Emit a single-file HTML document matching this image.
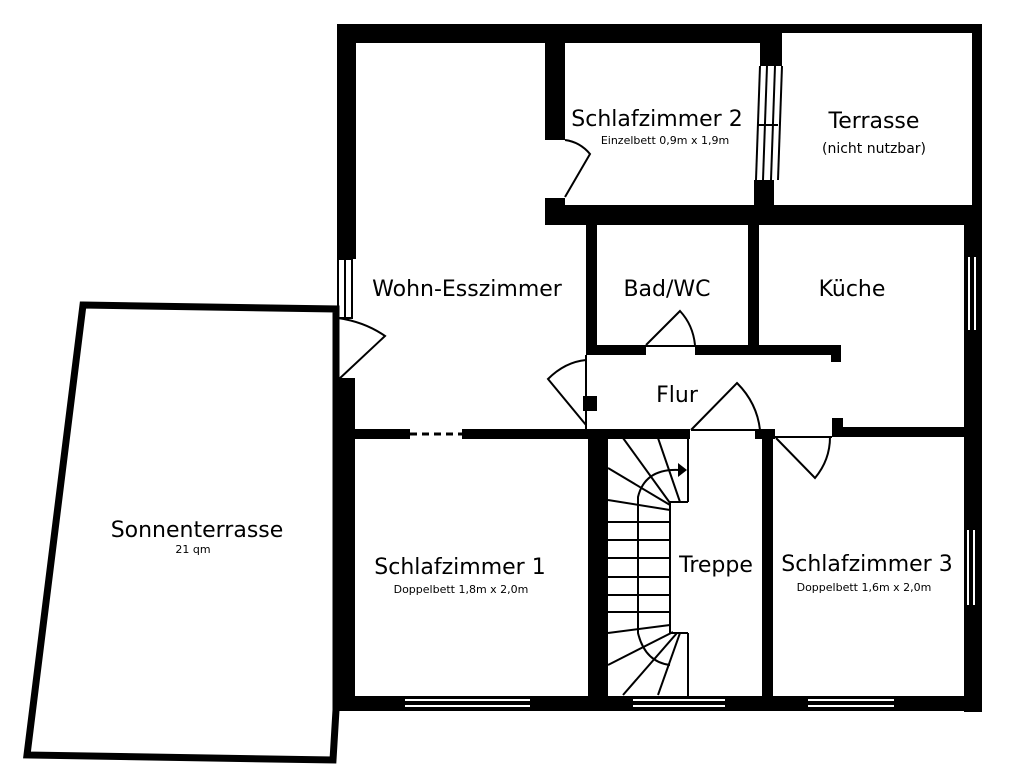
<!DOCTYPE html>
<html><head><meta charset="utf-8"><style>
html,body{margin:0;padding:0;background:#fff;}
svg{display:block;}
text{font-family:"DejaVu Sans","Liberation Sans",sans-serif;fill:#000;}
</style></head><body>
<svg width="1024" height="779" viewBox="0 0 1024 779" xmlns="http://www.w3.org/2000/svg">
<rect width="1024" height="779" fill="#fff"/>
<polygon points="83,305 336,309 336,710 333,760 27,755" fill="none" stroke="#000" stroke-width="7" stroke-linejoin="miter"/>
<g fill="#000">
<rect x="337" y="24" width="425" height="19"/>
<rect x="760" y="24" width="222" height="9"/>
<rect x="337" y="24" width="19" height="235"/>
<rect x="337" y="378" width="18" height="333"/>
<rect x="337" y="696" width="645" height="15"/>
<rect x="972" y="24" width="10" height="185"/>
<rect x="964" y="205" width="18" height="507"/>
<rect x="545" y="40" width="20" height="100"/>
<rect x="545" y="198" width="20" height="25"/>
<rect x="545" y="205" width="437" height="20"/>
<rect x="760" y="33" width="22" height="33"/>
<rect x="754" y="180" width="20" height="27"/>
<rect x="586" y="222" width="11" height="133"/>
<rect x="748" y="222" width="11" height="125"/>
<rect x="586" y="345" width="60" height="10"/>
<rect x="695" y="345" width="145" height="10"/>
<rect x="831" y="345" width="10" height="17"/>
<rect x="832" y="418" width="11" height="19"/>
<rect x="832" y="427" width="134" height="10"/>
<rect x="583" y="396" width="14" height="15"/>
<rect x="355" y="429" width="55" height="10"/>
<rect x="462" y="429" width="228" height="10"/>
<rect x="755" y="429" width="20" height="10"/>
<rect x="588" y="430" width="20" height="280"/>
<rect x="762" y="430" width="11" height="280"/>
</g>
<line x1="410" y1="434" x2="462" y2="434" stroke="#000" stroke-width="3" stroke-dasharray="7,5"/>
<g fill="#fff">
<rect x="405" y="699" width="125" height="2"/><rect x="405" y="705" width="125" height="2"/>
<rect x="633" y="699" width="92" height="2"/><rect x="633" y="705" width="92" height="2"/>
<rect x="808" y="699" width="86" height="2"/><rect x="808" y="705" width="86" height="2"/>
<rect x="968" y="257" width="2" height="73"/><rect x="974" y="257" width="2" height="73"/>
<rect x="967" y="530" width="2" height="75"/><rect x="973" y="530" width="2" height="75"/>
</g>
<g fill="none" stroke="#000" stroke-width="2">
<rect x="338" y="259" width="14" height="59"/>
<line x1="345" y1="259" x2="345" y2="318"/>
<line x1="760" y1="66" x2="756" y2="180"/>
<line x1="767" y1="66" x2="763" y2="180"/>
<line x1="775" y1="66" x2="771" y2="180"/>
<line x1="782" y1="66" x2="778" y2="180"/>
<line x1="757" y1="125" x2="778" y2="125"/>
<line x1="338" y1="318" x2="338" y2="380"/>
<path d="M338,380 L385,336 Q365,322 338,318"/>
<path d="M565,197 L590,154 Q580,142 565,140"/>
<path d="M646,345 L680,311 Q693,325 695,345"/>
<line x1="646" y1="346" x2="695" y2="346"/>
<line x1="586" y1="355" x2="586" y2="430"/>
<path d="M586,425 L548,379 Q565,362 586,360"/>
<path d="M691,430 L737,383 Q757,403 760,430"/>
<line x1="691" y1="430" x2="760" y2="430"/>
<line x1="775" y1="437" x2="832" y2="437"/>
<path d="M776,438 L815,478 Q830,460 830,437"/>
<!-- stairs -->
<line x1="688" y1="437" x2="688" y2="502"/>
<line x1="670" y1="502" x2="688" y2="502"/>
<line x1="688" y1="633" x2="688" y2="696"/>
<line x1="670" y1="633" x2="688" y2="633"/>
<line x1="670" y1="502" x2="670" y2="633"/>
<line x1="623" y1="438" x2="670" y2="503"/>
<line x1="658" y1="438" x2="680" y2="502"/>
<line x1="608" y1="468" x2="670" y2="505"/>
<line x1="608" y1="500" x2="670" y2="510"/>
<line x1="608" y1="522" x2="670" y2="522"/>
<line x1="608" y1="540" x2="670" y2="540"/>
<line x1="608" y1="558" x2="670" y2="558"/>
<line x1="608" y1="577" x2="670" y2="577"/>
<line x1="608" y1="595" x2="670" y2="595"/>
<line x1="608" y1="612" x2="670" y2="612"/>
<line x1="608" y1="633" x2="670" y2="625"/>
<line x1="608" y1="665" x2="673" y2="632"/>
<line x1="623" y1="695" x2="677" y2="633"/>
<line x1="658" y1="695" x2="680" y2="633"/>
<path d="M680,470 Q645,468 638,497 L638,633 Q645,662 670,665"/>
</g>
<polygon points="678,463 687,470 678,477" fill="#000"/>
<text x="657" y="126" font-size="22" text-anchor="middle">Schlafzimmer 2</text>
<text x="665" y="144" font-size="11" text-anchor="middle">Einzelbett 0,9m x 1,9m</text>
<text x="874" y="128" font-size="22" text-anchor="middle">Terrasse</text>
<text x="874" y="153" font-size="14" text-anchor="middle">(nicht nutzbar)</text>
<text x="467" y="296" font-size="22" text-anchor="middle">Wohn-Esszimmer</text>
<text x="667" y="296" font-size="22" text-anchor="middle">Bad/WC</text>
<text x="852" y="296" font-size="22" text-anchor="middle">Küche</text>
<text x="677" y="402" font-size="22" text-anchor="middle">Flur</text>
<text x="197" y="537" font-size="22" text-anchor="middle">Sonnenterrasse</text>
<text x="193" y="553" font-size="11" text-anchor="middle">21 qm</text>
<text x="460" y="574" font-size="22" text-anchor="middle">Schlafzimmer 1</text>
<text x="461" y="593" font-size="11" text-anchor="middle">Doppelbett 1,8m x 2,0m</text>
<text x="716" y="572" font-size="22" text-anchor="middle">Treppe</text>
<text x="867" y="571" font-size="22" text-anchor="middle">Schlafzimmer 3</text>
<text x="864" y="591" font-size="11" text-anchor="middle">Doppelbett 1,6m x 2,0m</text>
</svg>
</body></html>
